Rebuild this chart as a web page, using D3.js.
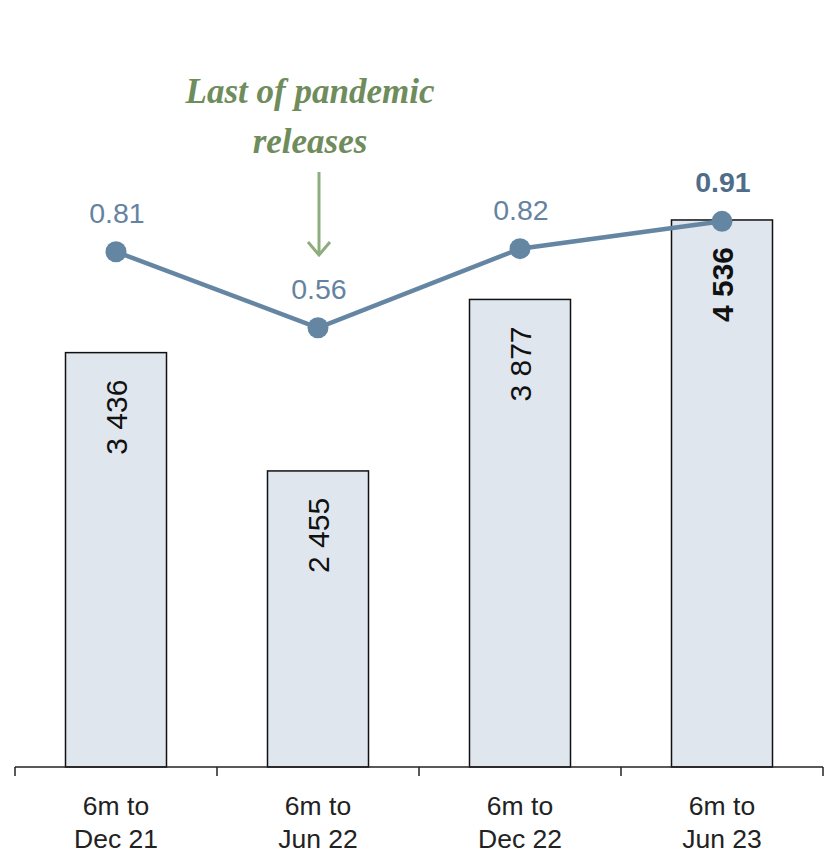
<!DOCTYPE html>
<html>
<head>
	<title>Chart</title>
	<meta charset='utf-8'>
	<style>
		body { margin: 0; background: #fff; }
		.bar { fill: #dfe6ed; stroke: #111; stroke-width: 1.5px; }
		.line { fill: none; stroke: #6586a3; stroke-width: 4.5px; }
		.dot { fill: #6586a3; }
		.axis path, .axis line { stroke: #222; stroke-width: 1.5px; }
		.axis text { font-family: 'Liberation Sans', Arial, sans-serif; font-size: 26.5px; fill: #222; }
		.val { font-family: 'Liberation Sans', Arial, sans-serif; font-size: 30px; fill: #111; }
		.ratio { font-family: 'Liberation Sans', Arial, sans-serif; font-size: 28.5px; fill: #6583a0; }
		.note { font-family: 'Liberation Serif', serif; font-style: italic; font-weight: bold; font-size: 35px; fill: #6f8c5c; }
	</style>
</head>
<body>
<script src='https://cdnjs.cloudflare.com/ajax/libs/d3/7.8.5/d3.min.js'></script>
<script>
	'use strict';
	const categories = [['6m to', 'Dec 21'], ['6m to', 'Jun 22'], ['6m to', 'Dec 22'], ['6m to', 'Jun 23']];
	const releases = [3436, 2455, 3877, 4536];
	const ratios = [0.81, 0.56, 0.82, 0.91];
	const releaseLabels = ['3 436', '2 455', '3 877', '4 536'];
	const note = ['Last of pandemic', 'releases'];

	const width = 825, height = 853;
	const base = 767;

	const svg = d3.select('body').append('svg')
		.attr('width', width)
		.attr('height', height);

	const idx = categories.map((d, i) => i);
	const x = d3.scaleBand().domain(idx).range([15, 823]).padding(0.5).paddingOuter(0.25);
	const yBar = d3.scaleLinear().domain([0, 6360]).range([base, 0]);
	const yLine = d3.scaleLinear().domain([0, 1.638]).range([498, 0]);

	// bars
	svg.selectAll('.bar')
		.data(releases)
		.enter()
		.append('rect')
		.attr('class', 'bar')
		.attr('x', (d, i) => x(i))
		.attr('width', x.bandwidth())
		.attr('y', d => yBar(d))
		.attr('height', d => base - yBar(d));

	// bar labels, rotated
	svg.selectAll('.val')
		.data(releases)
		.enter()
		.append('text')
		.attr('class', 'val')
		.attr('text-anchor', 'end')
		.attr('font-weight', (d, i) => i === 3 ? 'bold' : 'normal')
		.attr('transform', (d, i) => 'translate(' + (x(i) + x.bandwidth() / 2 + 11) + ',' + (yBar(d) + 27) + ') rotate(-90)')
		.text((d, i) => releaseLabels[i]);

	// x axis with ticks at band edges
	const ax = svg.append('g').attr('class', 'axis');
	ax.append('line').attr('x1', 15).attr('x2', 823).attr('y1', base).attr('y2', base);
	const step = x.step();
	ax.selectAll('.tk')
		.data(d3.range(categories.length + 1))
		.enter()
		.append('line')
		.attr('x1', i => 15 + i * step).attr('x2', i => 15 + i * step)
		.attr('y1', base).attr('y2', base + 9);
	const lab = ax.selectAll('.lab')
		.data(categories)
		.enter()
		.append('text')
		.attr('text-anchor', 'middle')
		.attr('x', (d, i) => x(i) + x.bandwidth() / 2)
		.attr('y', 815);
	lab.append('tspan').text(d => d[0]);
	lab.append('tspan').attr('x', (d, i) => x(i) + x.bandwidth() / 2).attr('dy', 33).text(d => d[1]);

	// line
	const line = d3.line()
		.x((d, i) => x(i) + x.bandwidth() / 2)
		.y(d => yLine(d));
	svg.append('path').datum(ratios).attr('class', 'line').attr('d', line);
	svg.selectAll('.dot')
		.data(ratios)
		.enter()
		.append('circle')
		.attr('class', 'dot')
		.attr('r', 10.5)
		.attr('cx', (d, i) => x(i) + x.bandwidth() / 2)
		.attr('cy', d => yLine(d));
	svg.selectAll('.ratio')
		.data(ratios)
		.enter()
		.append('text')
		.attr('class', 'ratio')
		.attr('text-anchor', 'middle')
		.attr('font-weight', (d, i) => i === 3 ? 'bold' : 'normal')
		.style('fill', (d, i) => i === 3 ? '#4f6d89' : null)
		.attr('x', (d, i) => x(i) + x.bandwidth() / 2 + 1)
		.attr('y', d => yLine(d) - 29)
		.text(d => d.toFixed(2));

	// annotation
	svg.selectAll('.note')
		.data(note)
		.enter()
		.append('text')
		.attr('class', 'note')
		.attr('text-anchor', 'middle')
		.attr('x', 310)
		.attr('y', (d, i) => 103 + i * 50)
		.text(d => d);
	const ax1 = x(1) + x.bandwidth() / 2 + 1;
	svg.append('line').attr('x1', ax1).attr('x2', ax1).attr('y1', 172).attr('y2', 254)
		.attr('stroke', '#8fac7c').attr('stroke-width', 3);
	svg.append('path').attr('d', 'M' + (ax1 - 11) + ',242 L' + ax1 + ',255 L' + (ax1 + 11) + ',242')
		.attr('fill', 'none').attr('stroke', '#8fac7c').attr('stroke-width', 3);
</script>
</body>
</html>
